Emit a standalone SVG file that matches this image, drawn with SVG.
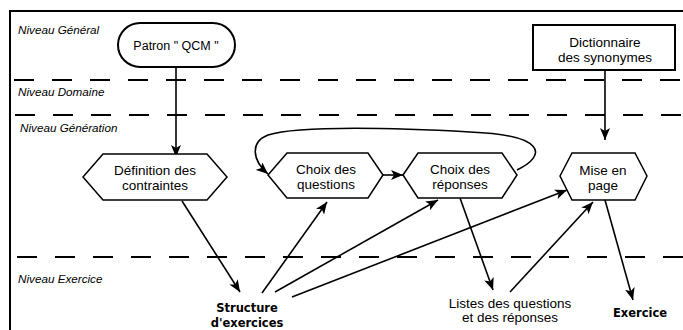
<svg xmlns="http://www.w3.org/2000/svg" width="683" height="330" viewBox="0 0 683 330">
  <style>
    .frame { fill: none; stroke: #000; stroke-width: 2; }
    .level { fill: none; stroke: #000; stroke-width: 2; stroke-dasharray: 20 18; }
    .lvl { font-family: "Liberation Sans", Arial, sans-serif; font-size: 11.7px; font-style: italic; fill: #000; }
    .box { fill: #fff; stroke: #000; stroke-width: 2; }
    .hex { fill: #fff; stroke: #000; stroke-width: 1.5; }
    .lbl { font-family: "Liberation Sans", Arial, sans-serif; font-size: 13.5px; fill: #000; text-anchor: middle; }
    .out { font-family: "DejaVu Sans", sans-serif; font-size: 11.5px; font-weight: bold; fill: #000; text-anchor: middle; }
    .link { fill: none; stroke: #000; stroke-width: 1.6; marker-end: url(#arrow); }
  </style>
  <defs>
    <marker id="arrow" viewBox="0 0 12 10" refX="12" refY="5" markerWidth="12" markerHeight="10" markerUnits="userSpaceOnUse" orient="auto">
      <path d="M0,0 L12,5 L0,10 L3,5 z" fill="#000"/>
    </marker>
  </defs>

  <rect width="683" height="330" fill="#fff"/>

  <!-- outer frame: top and left edges -->
  <path class="frame" d="M10,330 V11 H683"/>

  <!-- level separators -->
  <line class="level" x1="14" y1="80" x2="683" y2="80"/>
  <line class="level" x1="15" y1="115" x2="683" y2="115"/>
  <line class="level" x1="17" y1="257" x2="683" y2="257"/>

  <text class="lvl" x="18" y="34">Niveau Général</text>
  <text class="lvl" x="18" y="96">Niveau Domaine</text>
  <text class="lvl" x="20" y="132">Niveau Génération</text>
  <text class="lvl" x="18" y="283">Niveau Exercice</text>

  <!-- connectors -->
  <g id="connectors">
    <line class="link" x1="176" y1="67" x2="176" y2="157"/>
    <line class="link" x1="605" y1="70" x2="605" y2="140"/>
    <line class="link" x1="383" y1="175" x2="403" y2="175"/>
    <path class="link" d="M517,170 C548,155 545,135 470,132 C400,128 300,125 268,135 C250,142 252,160 268,174"/>
    <line class="link" x1="182" y1="201" x2="240" y2="292"/>
    <line class="link" x1="262" y1="293" x2="327" y2="202"/>
    <line class="link" x1="275" y1="292" x2="438" y2="200"/>
    <line class="link" x1="292" y1="297" x2="567" y2="190"/>
    <line class="link" x1="460" y1="198" x2="493" y2="290"/>
    <line class="link" x1="510" y1="292" x2="593" y2="202"/>
    <line class="link" x1="605" y1="200" x2="633" y2="300"/>
  </g>

  <g id="patron">
    <rect class="box" x="118" y="23" width="117" height="44" rx="22"/>
    <text class="lbl" x="176" y="50" style="font-size:12.5px">Patron " QCM "</text>
  </g>

  <g id="dictionnaire">
    <rect class="box" x="533" y="25" width="142" height="45"/>
    <text class="lbl" x="605" y="47">Dictionnaire</text>
    <text class="lbl" x="605" y="62">des synonymes</text>
  </g>

  <g id="definition">
    <polygon class="hex" points="83,177 103,154 207,154 227,177 207,200 103,200"/>
    <text class="lbl" x="155" y="175">Définition des</text>
    <text class="lbl" x="155" y="190">contraintes</text>
  </g>

  <g id="choix-questions">
    <polygon class="hex" points="268,175 287,153 368,153 383,175 368,198 287,198"/>
    <text class="lbl" x="326" y="174">Choix des</text>
    <text class="lbl" x="326" y="189">questions</text>
  </g>

  <g id="choix-reponses">
    <polygon class="hex" points="403,175 418,153 502,153 517,175 502,198 418,198"/>
    <text class="lbl" x="460" y="174">Choix des</text>
    <text class="lbl" x="460" y="189">réponses</text>
  </g>

  <g id="mise-en-page">
    <polygon class="hex" points="560,176 572,153 635,153 647,176 635,200 572,200"/>
    <text class="lbl" x="603" y="175">Mise en</text>
    <text class="lbl" x="603" y="190">page</text>
  </g>

  <g id="structure">
    <text class="out" x="247" y="312">Structure</text>
    <text class="out" x="247" y="327">d'exercices</text>
  </g>

  <g id="listes">
    <text class="lbl" x="510" y="308">Listes des questions</text>
    <text class="lbl" x="510" y="322">et des réponses</text>
  </g>

  <g id="exercice">
    <text class="out" x="640" y="317">Exercice</text>
  </g>
</svg>
